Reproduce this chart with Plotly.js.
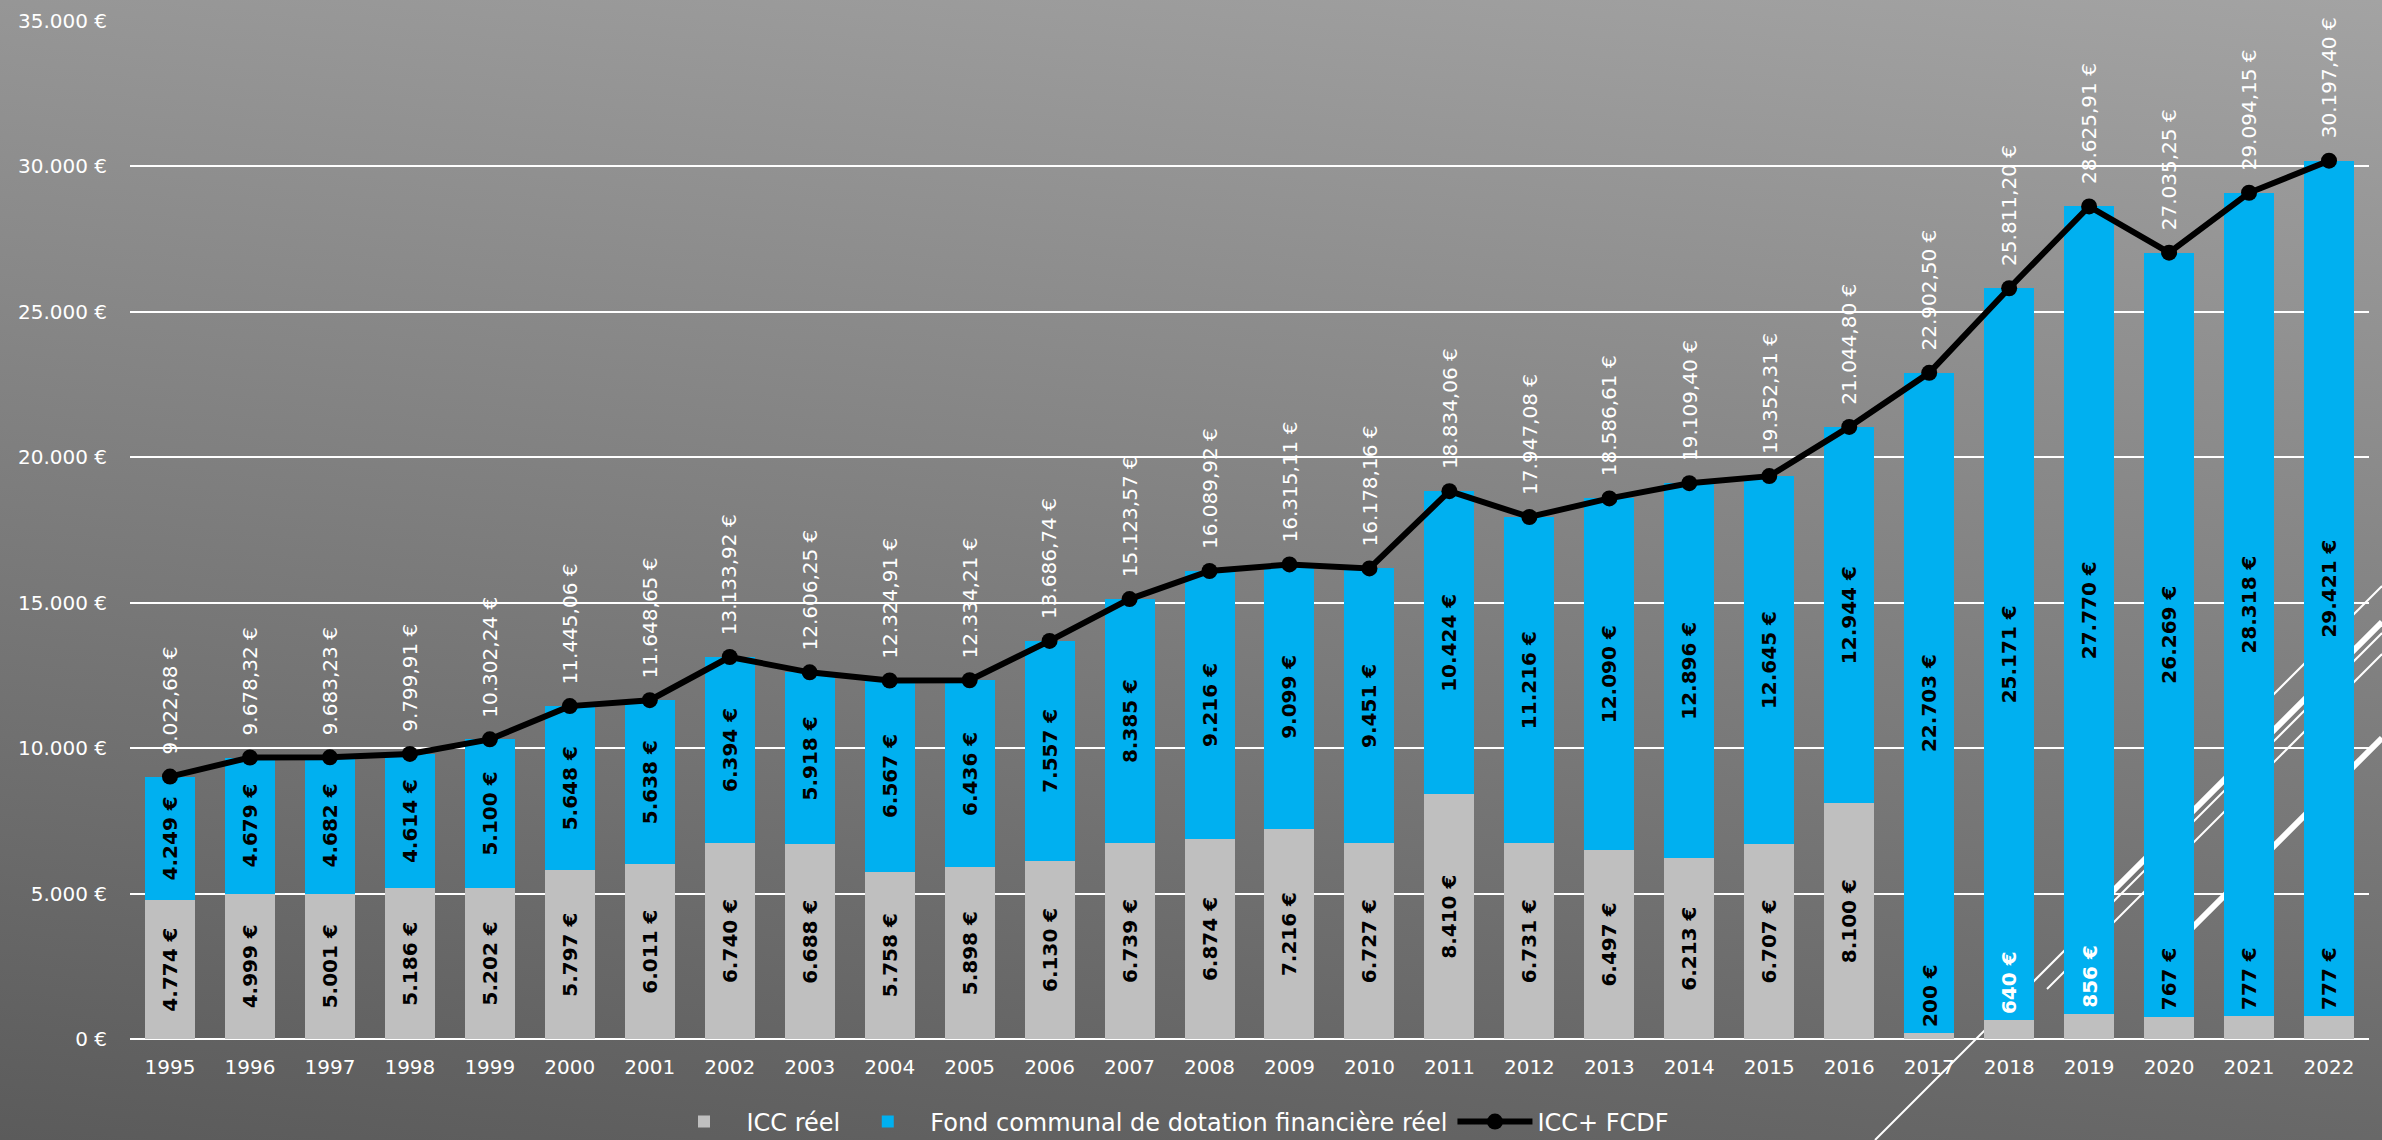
<!DOCTYPE html>
<html>
<head>
<meta charset="utf-8">
<script src="https://cdn.plot.ly/plotly-3.0.1.min.js"></script>
<style>
html,body{margin:0;padding:0;overflow:hidden;}
body{width:2382px;height:1140px;background:linear-gradient(186deg,#a3a3a3 0%,#7f7f7f 50%,#5b5b5b 100%);}
#chart{width:2382px;height:1140px;}
</style>
</head>
<body>
<div id="chart"></div>
<script>
// ---- data ----
const years = ['1995','1996','1997','1998','1999','2000','2001','2002','2003','2004','2005','2006','2007','2008','2009','2010','2011','2012','2013','2014','2015','2016','2017','2018','2019','2020','2021','2022'];
const iccReel = [4774,4999,5001,5186,5202,5797,6011,6740,6688,5758,5898,6130,6739,6874,7216,6727,8410,6731,6497,6213,6707,8100,200,640,856,767,777,777];
const fcdfReel = [4249,4679,4682,4614,5100,5648,5638,6394,5918,6567,6436,7557,8385,9216,9099,9451,10424,11216,12090,12896,12645,12944,22703,25171,27770,26269,28318,29421];
const totals = [9022.68,9678.32,9683.23,9799.91,10302.24,11445.06,11648.65,13133.92,12606.25,12324.91,12334.21,13686.74,15123.57,16089.92,16315.11,16178.16,18834.06,17947.08,18586.61,19109.40,19352.31,21044.80,22902.50,25811.20,28625.91,27035.25,29094.15,30197.40];
const seriesNames = ['ICC réel','Fond communal de dotation financière réel','ICC+ FCDF'];
const whiteLabelYears = ['2018','2019'];

// ---- helpers ----
function fmt(v, dec){
  const s = v.toFixed(dec);
  let parts = s.split('.');
  let i = parts[0].replace(/\B(?=(\d{3})+(?!\d))/g,'.');
  return parts.length > 1 ? i + ',' + parts[1] : i;
}
const SMALL = 1000;

const FONT = 'DejaVu Sans, Verdana, sans-serif';

const grayText = iccReel.map(v => v >= SMALL ? fmt(v,0) + ' €' : '');
const blueText = fcdfReel.map(v => fmt(v,0) + ' €');

const traces = [
  {
    type:'bar', name: seriesNames[0], x: years, y: iccReel,
    marker:{color:'#bfbfbf'},
    text: grayText, textposition:'inside', insidetextanchor:'middle',
    textangle:-90, constraintext:'none',
    insidetextfont:{family:FONT, size:20, color:'#000000', weight:'bold'},
    hoverinfo:'x+y'
  },
  {
    type:'bar', name: seriesNames[1], x: years, y: fcdfReel,
    marker:{color:'#00b0f0'},
    text: blueText, textposition:'inside', insidetextanchor:'middle',
    textangle:-90, constraintext:'none',
    insidetextfont:{family:FONT, size:20, color:'#000000', weight:'bold'},
    hoverinfo:'x+y'
  },
  {
    type:'scatter', mode:'lines+markers', name: seriesNames[2], x: years, y: totals,
    line:{color:'#000000', width:6},
    marker:{color:'#000000', size:16, symbol:'circle'},
    hoverinfo:'x+y'
  }
];

const annotations = [];
years.forEach((yr, i) => {
  annotations.push({
    x: i, y: totals[i], xref:'x', yref:'y',
    text: fmt(totals[i],2) + ' €', showarrow:false,
    textangle:-90, xanchor:'center', yanchor:'bottom', yshift:20,
    font:{family:FONT, size:20, color:'#ffffff'}
  });
  if (iccReel[i] < SMALL) {
    annotations.push({
      x: i, y: iccReel[i], xref:'x', yref:'y',
      text: fmt(iccReel[i],0) + ' €', showarrow:false,
      textangle:-90, xanchor:'center', yanchor:'bottom', yshift:4,
      font:{family:FONT, size:20, weight:'bold',
            color: whiteLabelYears.includes(yr) ? '#ffffff' : '#000000'}
    });
  }
});

// ---- decorative background strokes (pixel -> paper) ----
const M = {l:130, r:13, t:21, b:101, autoexpand:false};
const W = 2382, H = 1140;
const pw = W - M.l - M.r, ph = H - M.t - M.b;
function px(X){ return (X - M.l)/pw; }
function py(Y){ return (H - M.b - Y)/ph; }
const strokes = [
  [1875,1140,2382,633,2],
  [2047,989,2382,654,2],
  [2090,914,2382,622,6],
  [2170,950,2382,738,6],
  [2250,718,2382,586,2]
];
const shapes = strokes.map(s => ({
  type:'line', xref:'paper', yref:'paper', layer:'below',
  x0:px(s[0]), y0:py(s[1]), x1:px(s[2]), y1:py(s[3]),
  line:{color:'#ffffff', width:s[4]}
}));

const layout = {
  width: W, height: H,
  margin: M,
  paper_bgcolor:'rgba(0,0,0,0)',
  plot_bgcolor:'rgba(0,0,0,0)',
  separators: ',.',
  barmode:'stack',
  bargap:0.375,
  showlegend:true,
  font:{family:FONT, color:'#ffffff'},
  xaxis:{
    type:'category', range:[-0.5, years.length - 0.5],
    showgrid:false, zeroline:false, showline:false,
    ticks:'outside', ticklen:10, tickcolor:'rgba(0,0,0,0)',
    tickangle:0,
    tickfont:{family:FONT, size:20, color:'#ffffff'},
    fixedrange:true
  },
  yaxis:{
    range:[0,35000], dtick:5000, tick0:0,
    showgrid:true, gridcolor:'#ffffff', gridwidth:2,
    zeroline:true, zerolinecolor:'#ffffff', zerolinewidth:2,
    showline:false,
    ticks:'outside', ticklen:18, tickcolor:'rgba(0,0,0,0)',
    tickformat:',.0f', ticksuffix:' €',
    tickfont:{family:FONT, size:20, color:'#ffffff'},
    fixedrange:true
  },
  legend:{
    orientation:'h', x:0.4636, xanchor:'center', y:-0.0815, yanchor:'middle',
    font:{family:FONT, size:24, color:'#ffffff'},
    itemwidth:75,
    bgcolor:'rgba(0,0,0,0)', traceorder:'normal'
  },
  annotations: annotations,
  shapes: shapes
};

Plotly.newPlot('chart', traces, layout, {displayModeBar:false, staticPlot:true});
</script>
</body>
</html>
